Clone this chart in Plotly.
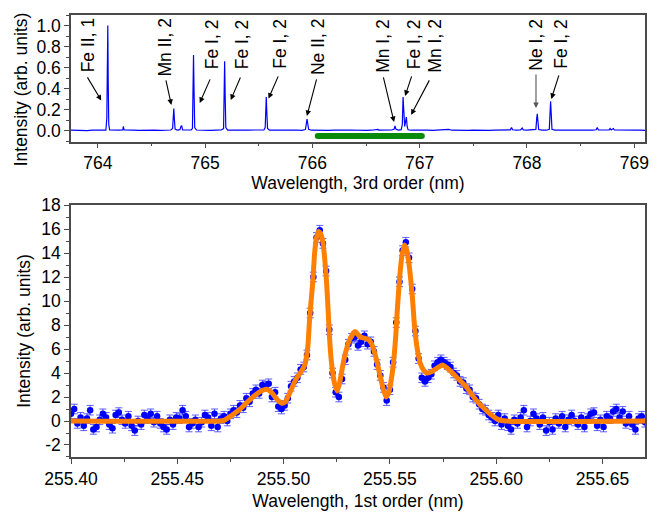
import plotly.graph_objects as go

# ---------------- top panel: 3rd-order spectrum ----------------
spectrum = [
    (763.75, 0.004), (763.80, 0.002), (763.85, 0.005), (763.90, 0.001), (763.95, 0.004),
    (764.00, 0.002), (764.04, 0.005), (764.075, 0.004), (764.084, 0.12), (764.090, 0.85),
    (764.093, 1.00), (764.097, 0.45), (764.102, 0.06), (764.11, 0.006), (764.15, 0.003),
    (764.20, 0.005), (764.232, 0.006), (764.238, 0.040), (764.245, 0.006), (764.28, 0.003),
    (764.33, 0.005), (764.38, 0.002), (764.43, 0.004), (764.48, 0.003), (764.53, 0.005),
    (764.58, 0.002), (764.63, 0.004), (764.68, 0.006), (764.697, 0.02), (764.703, 0.14),
    (764.708, 0.21), (764.713, 0.12), (764.72, 0.015), (764.74, 0.006), (764.765, 0.01),
    (764.775, 0.04), (764.782, 0.045), (764.79, 0.008), (764.83, 0.004), (764.87, 0.006),
    (764.882, 0.02), (764.888, 0.45), (764.892, 0.72), (764.897, 0.38), (764.903, 0.03),
    (764.92, 0.006), (764.96, 0.003), (765.00, 0.005), (765.05, 0.002), (765.10, 0.004),
    (765.15, 0.006), (765.172, 0.02), (765.178, 0.40), (765.182, 0.66), (765.187, 0.33),
    (765.193, 0.03), (765.21, 0.005), (765.26, 0.003), (765.31, 0.005), (765.36, 0.002),
    (765.41, 0.004), (765.46, 0.006), (765.51, 0.003), (765.548, 0.006), (765.560, 0.03),
    (765.566, 0.22), (765.570, 0.32), (765.575, 0.18), (765.582, 0.02), (765.60, 0.005),
    (765.65, 0.003), (765.70, 0.005), (765.75, 0.002), (765.80, 0.004), (765.85, 0.006),
    (765.90, 0.003), (765.935, 0.01), (765.944, 0.07), (765.950, 0.11), (765.956, 0.07),
    (765.965, 0.012), (765.99, 0.004), (766.05, 0.002), (766.10, 0.005), (766.15, 0.003),
    (766.20, 0.005), (766.25, 0.002), (766.30, 0.004), (766.35, 0.006), (766.40, 0.003),
    (766.45, 0.005), (766.50, 0.002), (766.55, 0.004), (766.60, 0.007), (766.61, 0.012),
    (766.62, 0.005), (766.66, 0.003), (766.70, 0.005), (766.74, 0.006), (766.762, 0.015),
    (766.770, 0.045), (766.778, 0.015), (766.80, 0.006), (766.828, 0.01), (766.838, 0.06),
    (766.845, 0.32), (766.852, 0.15), (766.860, 0.04), (766.869, 0.09), (766.876, 0.13),
    (766.883, 0.04), (766.892, 0.008), (766.92, 0.004), (766.97, 0.006), (767.02, 0.003),
    (767.07, 0.005), (767.12, 0.002), (767.17, 0.004), (767.22, 0.005), (767.27, 0.012),
    (767.30, 0.004), (767.35, 0.002), (767.40, 0.005), (767.45, 0.003), (767.50, 0.004),
    (767.55, 0.002), (767.60, 0.005), (767.65, 0.003), (767.70, 0.004), (767.75, 0.006),
    (767.80, 0.005), (767.845, 0.008), (767.856, 0.030), (767.866, 0.008), (767.90, 0.004),
    (767.94, 0.007), (767.955, 0.025), (767.965, 0.007), (768.00, 0.004), (768.05, 0.005),
    (768.083, 0.012), (768.091, 0.12), (768.096, 0.16), (768.101, 0.10), (768.109, 0.01),
    (768.14, 0.005), (768.18, 0.004), (768.208, 0.012), (768.215, 0.20), (768.220, 0.28),
    (768.225, 0.18), (768.233, 0.012), (768.26, 0.005), (768.31, 0.003), (768.36, 0.005),
    (768.41, 0.002), (768.46, 0.004), (768.51, 0.006), (768.56, 0.003), (768.61, 0.005),
    (768.645, 0.008), (768.655, 0.030), (768.665, 0.008), (768.70, 0.004), (768.74, 0.006),
    (768.765, 0.008), (768.775, 0.020), (768.785, 0.007), (768.795, 0.012), (768.805, 0.020),
    (768.815, 0.006), (768.86, 0.004), (768.91, 0.005), (768.96, 0.002), (769.01, 0.004),
    (769.06, 0.005), (769.10, 0.003),
]
spec_x = [p[0] for p in spectrum]
spec_y = [p[1] for p in spectrum]

# green bar marking the 1st-order window
window_x = [766.05, 767.02]
window_y = [-0.05, -0.05]

# line labels: text, arrow head (x, y), arrow tail offset (px), label centre (x, y)
line_labels = ["Fe II, 1", "Mn II, 2", "Fe I, 2", "Fe I, 2", "Fe I, 2", "Ne II, 2",
               "Mn I, 2", "Fe I, 2", "Mn I, 2", "Ne I, 2", "Fe I, 2"]
head_x = [764.032, 764.685, 764.950, 765.239, 765.591, 765.949, 766.761, 766.864, 766.920, 768.084, 768.227]
head_y = [0.286, 0.245, 0.264, 0.292, 0.305, 0.140, 0.083, 0.330, 0.150, 0.216, 0.302]
tail_dx = [-14.7, -5.7, 11, 10.3, 10.3, 10, -11, 7, 19, 0, 8]
tail_dy = [-24.7, -26, -25, -24, -23.7, -38, -46, -21, -36, -35, -25]
label_x = [763.904, 764.623, 765.059, 765.339, 765.697, 766.054, 766.661, 766.941, 767.144, 768.084, 768.317]
label_y = [0.807, 0.788, 0.826, 0.826, 0.826, 0.797, 0.810, 0.826, 0.810, 0.818, 0.826]
arrow_colors = ["black"] * 9 + ["#555555", "black"]

# ---------------- bottom panel: 1st-order measurement + fit ----------------
meas_x = [
    255.4000, 255.4015, 255.4030, 255.4045, 255.4060, 255.4075, 255.4090, 255.4105, 255.4120, 255.4135,
    255.4150, 255.4165, 255.4180, 255.4195, 255.4210, 255.4225, 255.4240, 255.4255, 255.4270, 255.4285,
    255.4300, 255.4315, 255.4330, 255.4345, 255.4360, 255.4375, 255.4390, 255.4405, 255.4420, 255.4435,
    255.4450, 255.4465, 255.4480, 255.4495, 255.4510, 255.4525, 255.4540, 255.4555, 255.4570, 255.4585,
    255.4600, 255.4615, 255.4630, 255.4645, 255.4660, 255.4675, 255.4690, 255.4705, 255.4720, 255.4735,
    255.4750, 255.4765, 255.4780, 255.4795, 255.4810, 255.4825, 255.4840, 255.4855, 255.4870, 255.4885,
    255.4900, 255.4915, 255.4930, 255.4945, 255.4960, 255.4975, 255.4990, 255.5005, 255.5020, 255.5035,
    255.5050, 255.5065, 255.5080, 255.5095, 255.5110, 255.5125, 255.5140, 255.5155, 255.5170, 255.5185,
    255.5200, 255.5215, 255.5230, 255.5245, 255.5260, 255.5275, 255.5290, 255.5305, 255.5320, 255.5335,
    255.5350, 255.5365, 255.5380, 255.5395, 255.5410, 255.5425, 255.5440, 255.5455, 255.5470, 255.5485,
    255.5500, 255.5515, 255.5530, 255.5545, 255.5560, 255.5575, 255.5590, 255.5605, 255.5620, 255.5635,
    255.5650, 255.5665, 255.5680, 255.5695, 255.5710, 255.5725, 255.5740, 255.5755, 255.5770, 255.5785,
    255.5800, 255.5815, 255.5830, 255.5845, 255.5860, 255.5875, 255.5890, 255.5905, 255.5920, 255.5935,
    255.5950, 255.5965, 255.5980, 255.5995, 255.6010, 255.6025, 255.6040, 255.6055, 255.6070, 255.6085,
    255.6100, 255.6115, 255.6130, 255.6145, 255.6160, 255.6175, 255.6190, 255.6205, 255.6220, 255.6235,
    255.6250, 255.6265, 255.6280, 255.6295, 255.6310, 255.6325, 255.6340, 255.6355, 255.6370, 255.6385,
    255.6400, 255.6415, 255.6430, 255.6445, 255.6460, 255.6475, 255.6490, 255.6505, 255.6520, 255.6535,
    255.6550, 255.6565, 255.6580, 255.6595, 255.6610, 255.6625, 255.6640, 255.6655, 255.6670, 255.6685,
    255.6700,
]
meas_y = [
    0.6, 1.0, -0.2, 0.3, -0.4, 0.2, 0.9, -0.7, -0.5, 0.1,
    0.6, 0.3, -0.3, -0.6, 0.5, 0.7, 0.1, -0.2, 0.4, -0.4,
    -0.8, 0.0, -0.3, 0.5, 0.2, 0.6, -0.1, 0.4, -0.2, -0.5,
    -0.7, 0.1, -0.3, 0.3, 0.2, 0.9, 0.4, -0.5, -0.2, 0.1,
    -0.5, -0.1, 0.5, 0.3, -0.4, 0.6, -0.5, 0.2, 0.4, 0.0,
    0.6, 0.9, 0.7, 1.3, 1.1, 1.9, 1.6, 2.3, 2.6, 2.3,
    3.0, 2.9, 3.1, 2.0, 2.4, 1.2, 1.0, 1.3, 1.9, 2.9,
    3.3, 3.6, 4.3, 4.5, 5.5, 9.0, 12.0, 15.3, 15.9, 14.8,
    12.5, 7.6, 4.0, 2.4, 2.0, 3.5, 5.1, 6.4, 6.9, 7.0,
    6.3, 6.6, 7.1, 6.4, 6.6, 5.8, 4.7, 3.8, 2.8, 1.7,
    2.6, 4.9, 8.2, 11.6, 14.2, 14.9, 13.6, 11.0, 7.5, 5.2,
    3.6, 3.3, 3.6, 3.9, 4.6, 4.9, 5.1, 4.9, 4.7, 4.5,
    4.0, 3.8, 3.3, 3.2, 2.7, 2.6, 2.0, 1.9, 1.4, 1.0,
    0.9, 0.5, 0.3, 0.0, 0.5, -0.3, 0.2, -0.4, -0.7, 0.1,
    -0.2, 0.3, 0.9, -0.5, 0.0, 0.6, 0.2, -0.3, 0.3, -0.8,
    -0.1, -0.7, 0.2, -0.2, 0.4, -0.5, 0.1, 0.5, 0.0, -0.3,
    0.3, -0.5, 0.2, 0.6, 0.7, -0.4, 0.1, -0.5, 0.4, 0.2,
    0.8, 1.0, 0.3, 0.8, -0.2, 0.4, -0.3, -0.7, 0.2, 0.4,
    -0.1,
]
meas_err = 0.4

fit_x = [255.4000, 255.4700, 255.4720, 255.4746, 255.4770, 255.4793, 255.4825, 255.4856, 255.4890, 255.4919,
         255.4945, 255.4966, 255.4994, 255.5010, 255.5028, 255.5045, 255.5060, 255.5080, 255.5100, 255.5114,
         255.5122, 255.5130, 255.5138, 255.5146, 255.5155, 255.5164, 255.5174, 255.5185, 255.5195, 255.5202,
         255.5209, 255.5216, 255.5224, 255.5232, 255.5240, 255.5252, 255.5264, 255.5276, 255.5290, 255.5310,
         255.5336, 255.5360, 255.5380, 255.5398, 255.5412, 255.5425, 255.5437, 255.5451, 255.5467, 255.5482,
         255.5495, 255.5506, 255.5514, 255.5521, 255.5528, 255.5534, 255.5545, 255.5556, 255.5568, 255.5580,
         255.5592, 255.5599, 255.5606, 255.5615, 255.5627, 255.5643, 255.5660, 255.5676, 255.5700, 255.5725,
         255.5748, 255.5770, 255.5795, 255.5825, 255.5858, 255.5905, 255.5952, 255.5985, 255.6010, 255.6046,
         255.6700]
fit_y = [0.0, 0.0, 0.05, 0.35, 0.65, 0.95, 1.5, 2.0, 2.45, 2.64,
         2.35, 1.85, 1.47, 1.65, 2.3, 3.0, 3.55, 4.05, 4.7, 6.2,
         8.4, 10.1, 11.75, 14.0, 15.3, 15.8, 15.6, 14.9, 13.2, 11.6,
         9.4, 7.0, 5.1, 3.9, 3.1, 2.5, 3.2, 4.4, 5.6, 6.75,
         7.45, 7.0, 6.9, 6.8, 6.5, 5.9, 5.1, 4.0, 2.8, 2.0,
         2.4, 3.4, 4.4, 5.6, 7.2, 9.0, 11.75, 13.7, 14.67, 14.2,
         12.8, 11.6, 10.3, 8.1, 6.2, 4.8, 4.2, 4.0, 4.15, 4.45,
         4.67, 4.4, 4.0, 3.45, 2.86, 1.75, 0.9, 0.4, 0.12, 0.0,
         0.0]
assert len(meas_x) == len(meas_y) and len(fit_x) == len(fit_y)

top_ytick_vals = [0.0, 0.2, 0.4, 0.6, 0.8, 1.0]
top_ytick_text = ["0.0", "0.2", "0.4", "0.6", "0.8", "1.0"]
bot_ytick_vals = [-2, 0, 2, 4, 6, 8, 10, 12, 14, 16, 18]
bot_ytick_text = ["-2", "0", "2", "4", "6", "8", "10", "12", "14", "16", "18"]

# ---------------- figure ----------------
FONT = "Arial, Liberation Sans, sans-serif"
AX = "#4a4a4a"
fig = go.Figure()

fig.add_trace(go.Scatter(x=spec_x, y=spec_y, mode="lines", line=dict(color="#0000FF", width=1.2),
                         xaxis="x", yaxis="y", showlegend=False, hoverinfo="skip"))
fig.add_trace(go.Scatter(x=window_x, y=window_y, mode="lines+markers",
                         line=dict(color="#0A8A0A", width=6), marker=dict(color="#0A8A0A", size=6),
                         xaxis="x", yaxis="y", showlegend=False))

fig.add_trace(go.Scatter(x=meas_x, y=meas_y, mode="markers",
                         marker=dict(color="#0000FF", size=6.5),
                         error_y=dict(type="constant", value=meas_err, color="rgba(40,40,255,0.75)",
                                      thickness=1, width=3.5),
                         xaxis="x2", yaxis="y2", showlegend=False))
fig.add_trace(go.Scatter(x=fit_x, y=fit_y, mode="lines", line=dict(color="#FF8000", width=5, shape="spline", smoothing=0.6),
                         xaxis="x2", yaxis="y2", showlegend=False))

# the page body has an 8 px margin, so the figure is drawn 8 px smaller and the margins shifted
top_dom = [0.7134, 1.0]
bot_dom = [0.0, 0.5701]
xr_top = [763.75, 769.1]
yr_top = [-0.105, 1.10]
xr_bot = [255.40, 255.67]
yr_bot = [-3, 18]

common = dict(showline=True, linecolor=AX, linewidth=1.5, showgrid=False, zeroline=False,
              ticks="outside", ticklen=5, tickwidth=1.3, tickcolor=AX, automargin=False,
              tickfont=dict(family=FONT, size=17.5, color="black"))
mirror = dict(showline=False, showgrid=False, zeroline=False, ticks="inside", ticklen=5,
              tickwidth=1.3, tickcolor=AX, showticklabels=False, automargin=False)

fig.update_layout(
    width=654, height=504,
    margin=dict(l=63, r=17, t=7, b=55, autoexpand=False),
    plot_bgcolor="white", paper_bgcolor="white",
    font=dict(family=FONT, size=17.5, color="black"),
    xaxis=dict(domain=[0, 1], anchor="y", range=xr_top, dtick=1, tick0=764,
               minor=dict(dtick=0.5, ticklen=3, ticks="outside", tickcolor=AX),
               title=dict(text="Wavelength, 3rd order (nm)", standoff=0, font=dict(size=17.5)),
               mirror=True, **common),
    yaxis=dict(domain=top_dom, anchor="x", range=yr_top, tickvals=top_ytick_vals, ticktext=top_ytick_text,
               minor=dict(dtick=0.1, tick0=0, ticklen=3, ticks="outside", tickcolor=AX),
               mirror=True, **common),
    xaxis3=dict(overlaying="x", anchor="y", side="top", range=xr_top, dtick=1, tick0=764,
                minor=dict(dtick=0.5, ticklen=3, ticks="inside", tickcolor=AX), **mirror),
    yaxis3=dict(overlaying="y", anchor="x", side="right", range=yr_top, dtick=0.2, tick0=0,
                minor=dict(dtick=0.1, tick0=0, ticklen=3, ticks="inside", tickcolor=AX), **mirror),
    xaxis2=dict(domain=[0, 1], anchor="y2", range=xr_bot, dtick=0.05, tick0=255.40, tickformat=".2f",
                minor=dict(dtick=0.025, ticklen=3, ticks="outside", tickcolor=AX),
                title=dict(text="Wavelength, 1st order (nm)", standoff=7, font=dict(size=17.5)),
                mirror=True, **common),
    yaxis2=dict(domain=bot_dom, anchor="x2", range=yr_bot, tickvals=bot_ytick_vals, ticktext=bot_ytick_text,
                minor=dict(dtick=1, tick0=0, ticklen=3, ticks="outside", tickcolor=AX),
                title=dict(text="Intensity (arb. units)", standoff=6, font=dict(size=17.5)),
                mirror=True, **common),
    xaxis4=dict(overlaying="x2", anchor="y2", side="top", range=xr_bot, dtick=0.05, tick0=255.40,
                minor=dict(dtick=0.025, ticklen=3, ticks="inside", tickcolor=AX), **mirror),
    yaxis4=dict(overlaying="y2", anchor="x2", side="right", range=yr_bot, dtick=2, tick0=0,
                minor=dict(dtick=1, tick0=0, ticklen=3, ticks="inside", tickcolor=AX), **mirror),
)

annotations = []
for i in range(len(line_labels)):
    annotations.append(dict(x=head_x[i], y=head_y[i], xref="x", yref="y", text="", showarrow=True,
                            ax=tail_dx[i], ay=tail_dy[i], axref="pixel", ayref="pixel",
                            arrowhead=2, arrowsize=1, arrowwidth=1.1, arrowcolor=arrow_colors[i], standoff=0))
    annotations.append(dict(x=label_x[i], y=label_y[i], xref="x", yref="y", text=line_labels[i],
                            showarrow=False, textangle=-90, xanchor="center", yanchor="middle",
                            font=dict(family=FONT, size=17.5, color="black")))
# y title of the top panel, sitting slightly below the panel centre as in the original
annotations.append(dict(x=-0.087, y=0.832, xref="paper", yref="paper", text="Intensity (arb. units)",
                        showarrow=False, textangle=-90, xanchor="center", yanchor="middle",
                        font=dict(family=FONT, size=17.5, color="black")))
fig.update_layout(annotations=annotations)

fig.write_html("out.html")
